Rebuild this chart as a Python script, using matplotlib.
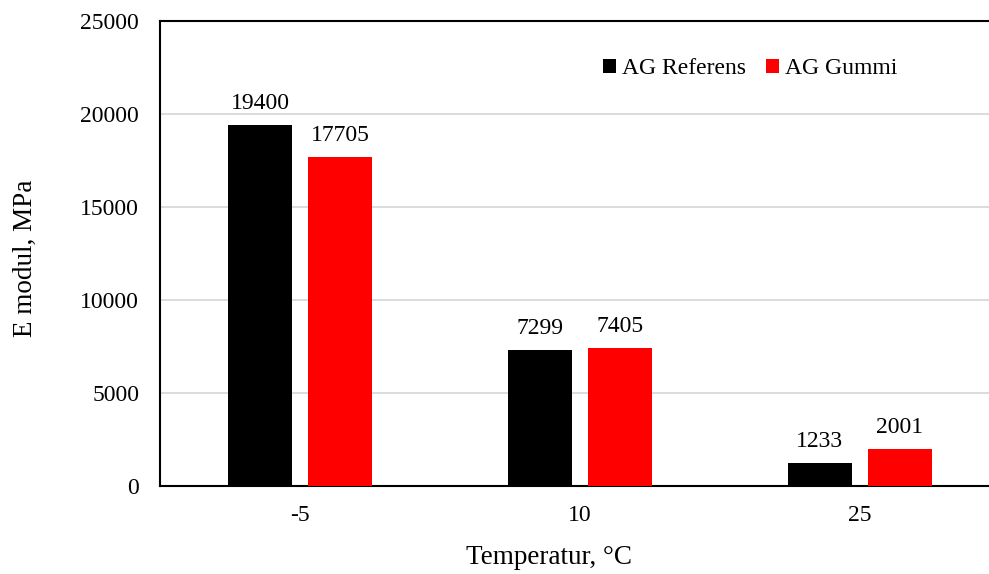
import numpy as np
import matplotlib
matplotlib.use('Agg')
import matplotlib.pyplot as plt

temps = ['-5', '10', '25']
referens = [19400, 7299, 1233]
gummi = [17705, 7405, 2001]
series_names = ['AG Referens', 'AG Gummi']
series_colors = ['#000000', '#ff0000']
yticks = [0, 5000, 10000, 15000, 20000, 25000]

plt.rcParams['font.family'] = ['Liberation Serif', 'DejaVu Serif']

fig = plt.figure(figsize=(9.89, 5.74), dpi=100)
ax = fig.add_axes([160 / 989, 88 / 574, 840 / 989, 465 / 574])

x = np.arange(len(temps))
w = 0.229
off = 0.143
for vals, sign, name, col in zip([referens, gummi], [-1, 1], series_names, series_colors):
	ax.bar(x + sign * off, vals, width=w, color=col, label=name, zorder=3)
	for xi, v in zip(x, vals):
		ax.annotate(str(v), (xi + sign * off, v), xytext=(0, 8), textcoords='offset points',
			ha='center', va='bottom', fontsize=17)

ax.set_xlim(-0.5, 2.5)
ax.set_ylim(0, 25000)
ax.set_yticks(yticks)
ax.set_xticks(x)
ax.set_xticklabels(temps)
ax.tick_params(axis='both', length=0, labelsize=17)
ax.tick_params(axis='y', pad=15)
ax.tick_params(axis='x', pad=14)
ax.yaxis.grid(True, color='#d9d9d9', lw=1.3, zorder=0)
ax.set_axisbelow(True)
for s in ['left', 'bottom', 'top']:
	ax.spines[s].set_linewidth(1.5)
	ax.spines[s].set_color('black')
ax.spines['right'].set_visible(False)

ax.set_ylabel('E modul, MPa', fontsize=19.5, va='center')
ax.yaxis.set_label_coords(-0.16, 0.49)
ax.set_xlabel('Temperatur, °C', fontsize=19.5, va='center')
ax.xaxis.set_label_coords(0.463, -0.153)

ax.legend(loc='center', bbox_to_anchor=(750 / 989, 1 - 69 / 574), bbox_transform=fig.transFigure,
	ncol=2, frameon=False, fontsize=17, handlelength=0.55, handleheight=0.55,
	handletextpad=0.25, columnspacing=0.85)

fig.savefig('out.png', dpi=100)
